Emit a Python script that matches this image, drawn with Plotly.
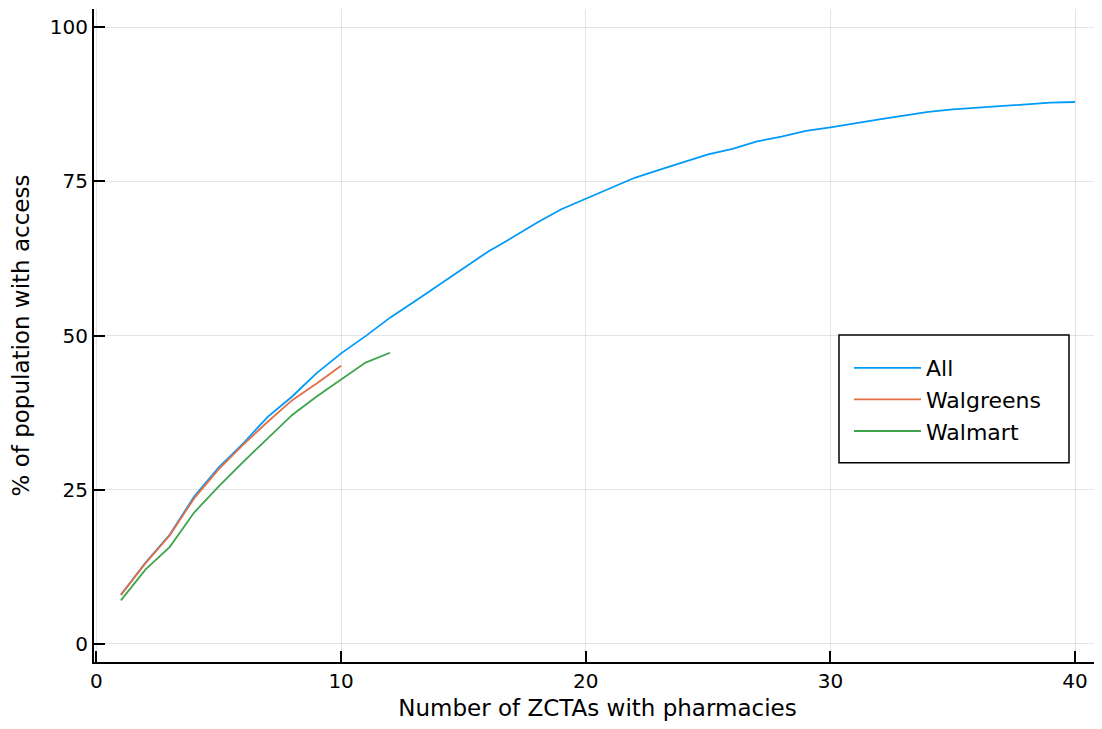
import plotly.graph_objects as go

x_all = list(range(1, 41))
y_all = [7.9, 13.1, 17.7, 23.9, 28.6, 32.5, 36.8, 40.1, 43.9, 47.1,
         49.9, 52.9, 55.5, 58.2, 60.9, 63.6, 65.9, 68.3, 70.5, 72.2,
         73.8, 75.6, 76.9, 78.2, 79.4, 80.3, 81.5, 82.3, 83.2, 83.8,
         84.5, 85.1, 85.7, 86.3, 86.7, 87.0, 87.3, 87.6, 87.8, 87.9]

x_walgreens = list(range(1, 11))
y_walgreens = [7.9, 13.0, 17.6, 23.6, 28.3, 32.3, 36.0, 39.5, 42.2, 45.1]

x_walmart = list(range(1, 13))
y_walmart = [7.0, 12.0, 15.7, 21.3, 25.5, 29.5, 33.3, 37.1, 40.1, 42.8, 45.6, 47.2]

names = ["All", "Walgreens", "Walmart"]
colors = ["#009AFA", "#E36F47", "#3EA44E"]

x_ticks = [0, 10, 20, 30, 40]
y_ticks = [0, 25, 50, 75, 100]

FONT = "DejaVu Sans"

# page has an 8px body margin; figure sized so the plot fills the window
W, H = 1094, 713
L, R, T, B = 86, 1, 0.5, 58.5
PW, PH = W - L - R, H - T - B


def px_to_paper(px, py):
    # reference page pixels -> paper coords
    return ((px - 8 - L) / PW, (H - B - (py - 8)) / PH)


fig = go.Figure()
for xs, ys, n, c in zip([x_all, x_walgreens, x_walmart],
                        [y_all, y_walgreens, y_walmart], names, colors):
    fig.add_trace(go.Scatter(x=xs, y=ys, mode="lines", name=n, legendgroup=n,
                             line=dict(color=c, width=1.8)))

axis_common = dict(
    showgrid=True, gridcolor="rgba(0,0,0,0.1)", gridwidth=1,
    zeroline=False, showline=True, linecolor="black", linewidth=2,
    ticks="inside", ticklen=11, tickwidth=1.5, tickcolor="black",
    tickfont=dict(family=FONT, size=20, color="black"),
)

fig.update_xaxes(range=[-0.1, 41.06], tickvals=x_ticks,
                 title=dict(text="Number of ZCTAs with pharmacies",
                            font=dict(family=FONT, size=23, color="black"),
                            standoff=10),
                 **axis_common)
fig.update_yaxes(range=[-3, 103], tickvals=y_ticks,
                 title=dict(text="% of population with access",
                            font=dict(family=FONT, size=23, color="black"),
                            standoff=18),
                 **axis_common)

bx0, by0 = px_to_paper(839, 463)
bx1, by1 = px_to_paper(1069, 335)
fig.add_shape(type="rect", xref="paper", yref="paper",
              x0=bx0, y0=by0, x1=bx1, y1=by1,
              line=dict(color="black", width=1.5), fillcolor="white",
              layer="above")

lx, ly = px_to_paper(849, 347)
fig.update_layout(
    width=W, height=H,
    margin=dict(l=L, r=R, t=T, b=B),
    plot_bgcolor="white", paper_bgcolor="white",
    font=dict(family=FONT, color="black"),
    legend=dict(x=lx, y=ly, xanchor="left", yanchor="top",
                borderwidth=0, bgcolor="rgba(0,0,0,0)",
                font=dict(family=FONT, size=22, color="black"),
                itemwidth=67, tracegroupgap=0),
)

fig.write_html("out.html")
